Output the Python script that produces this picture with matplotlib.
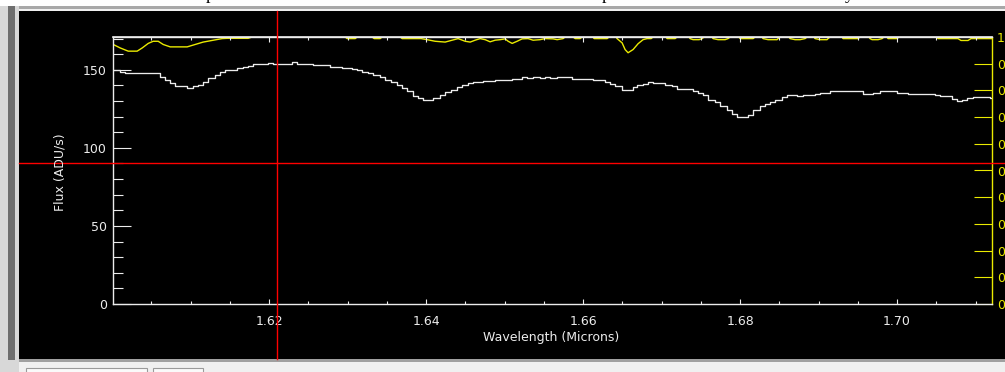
import matplotlib
matplotlib.use('Agg')
import matplotlib.pyplot as plt
from matplotlib.patches import Rectangle
from matplotlib.lines import Line2D
from matplotlib.ticker import MultipleLocator, FormatStrFormatter

# observed spectrum (step starts, microns) and flux (ADU/s)
flux_wl = [1.60013, 1.60102, 1.60166, 1.60611, 1.60675, 1.60739, 1.60803, 1.60955,
           1.61032, 1.61096, 1.61159, 1.61223, 1.61312, 1.61376, 1.61439, 1.61592,
           1.61669, 1.61732, 1.61796, 1.61987, 1.62051, 1.62293, 1.62357, 1.62561,
           1.62777, 1.62930, 1.63057, 1.63121, 1.63185, 1.63261, 1.63325, 1.63414,
           1.63478, 1.63554, 1.63631, 1.63694, 1.63758, 1.63834, 1.63898, 1.63962,
           1.64089, 1.64178, 1.64242, 1.64318, 1.64395, 1.64459, 1.64535, 1.64599,
           1.64726, 1.64879, 1.65096, 1.65223, 1.65287, 1.65363, 1.65452, 1.65516,
           1.65580, 1.65669, 1.65860, 1.66127, 1.66280, 1.66344, 1.66408, 1.66497,
           1.66637, 1.66688, 1.66764, 1.66828, 1.66892, 1.67045, 1.67134, 1.67197,
           1.67401, 1.67465, 1.67529, 1.67592, 1.67682, 1.67745, 1.67834, 1.67898,
           1.67962, 1.68102, 1.68166, 1.68255, 1.68318, 1.68382, 1.68446, 1.68535,
           1.68599, 1.68726, 1.68803, 1.68955, 1.69019, 1.69146, 1.69567, 1.69694,
           1.69783, 1.70000, 1.70140, 1.70484, 1.70548, 1.70701, 1.70764, 1.70828,
           1.70892, 1.70968, 1.71185, 1.71210]
flux = [149.6, 148.9, 147.9, 145.4, 143.6, 141.5, 139.4, 138.3,
        139.4, 140.4, 142.5, 144.7, 146.8, 148.5, 149.6, 151.1,
        152.1, 152.7, 153.8, 154.6, 153.8, 154.9, 154.0, 153.2,
        152.1, 151.3, 150.4, 149.6, 148.7, 147.9, 146.8, 145.4,
        143.6, 142.5, 140.4, 138.3, 136.2, 133.4, 132.0, 130.9,
        132.0, 133.6, 135.8, 137.3, 139.0, 140.3, 141.5, 142.2,
        143.0, 143.6, 144.3, 145.1, 144.5, 145.1, 144.5, 145.1,
        144.5, 145.1, 144.3, 143.6, 142.2, 140.9, 139.4, 136.8,
        139.0, 140.3, 141.1, 141.9, 141.5, 140.4, 139.4, 137.7,
        136.2, 135.2, 133.6, 130.9, 129.4, 127.1, 124.5, 122.0,
        119.9, 121.3, 124.1, 126.6, 128.3, 129.2, 130.9, 132.4,
        134.1, 133.4, 134.1, 134.5, 135.2, 136.2, 134.5, 135.2,
        136.2, 135.2, 134.5, 134.1, 133.0, 131.5, 130.3, 130.9,
        132.0, 132.6, 132.0, 132.0]

# atmospheric transmission (right axis)
trans_wl = [1.60013, 1.60102, 1.60204, 1.60318, 1.60382, 1.60459, 1.60522, 1.60586,
            1.60650, 1.60739, 1.60955, 1.61057, 1.61159, 1.61287, 1.61401, 1.61465,
            1.61732, 1.61783, 1.62968, 1.62994, 1.63096, 1.63121, 1.63312, 1.63338,
            1.63414, 1.63439, 1.63669, 1.63694, 1.63936, 1.64013, 1.64115, 1.64242,
            1.64331, 1.64408, 1.64497, 1.64561, 1.64624, 1.64688, 1.64752, 1.64815,
            1.64879, 1.64943, 1.65006, 1.65045, 1.65096, 1.65159, 1.65223, 1.65299,
            1.65363, 1.65452, 1.65516, 1.65618, 1.65669, 1.65745, 1.65770, 1.65873,
            1.65899, 1.65962, 1.65987, 1.66127, 1.66140, 1.66306, 1.66331, 1.66420,
            1.66433, 1.66497, 1.66535, 1.66573, 1.66637, 1.66701, 1.66764, 1.66815,
            1.66866, 1.66892, 1.67057, 1.67070, 1.67172, 1.67197, 1.67350, 1.67363,
            1.67401, 1.67478, 1.67516, 1.67541, 1.67643, 1.67656, 1.67720, 1.67809,
            1.67847, 1.67873, 1.67987, 1.68000, 1.68166, 1.68191, 1.68280, 1.68293,
            1.68357, 1.68471, 1.68484, 1.68510, 1.68624, 1.68637, 1.68701, 1.68764,
            1.68828, 1.68854, 1.68943, 1.68955, 1.69019, 1.69108, 1.69121, 1.69146,
            1.69299, 1.69312, 1.69503, 1.69529, 1.69643, 1.69656, 1.69682, 1.69758,
            1.69809, 1.69834, 1.69873, 1.69885, 1.70000, 1.70025, 1.70510, 1.70522,
            1.70777, 1.70815, 1.70904, 1.70943, 1.71210]
trans = [0.972, 0.959, 0.947, 0.947, 0.959, 0.976, 0.984, 0.984,
         0.972, 0.963, 0.963, 0.972, 0.981, 0.988, 0.994, 0.995,
         0.995, 1.0, 1.0, 0.994, 0.994, 1.0, 1.0, 0.994,
         0.994, 1.0, 1.0, 0.994, 0.994, 0.990, 0.984, 0.981,
         0.988, 0.994, 0.984, 0.981, 0.988, 0.994, 0.990, 0.982,
         0.988, 0.990, 0.993, 0.984, 0.976, 0.984, 0.993, 0.994,
         0.988, 0.990, 0.994, 0.993, 0.990, 0.994, 1.0, 1.0,
         0.994, 0.994, 1.0, 1.0, 0.994, 0.994, 1.0, 1.0,
         0.994, 0.978, 0.953, 0.941, 0.953, 0.975, 0.990, 0.994,
         0.994, 1.0, 1.0, 0.994, 0.994, 1.0, 1.0, 0.994,
         0.990, 0.990, 0.994, 1.0, 1.0, 0.994, 0.990, 0.990,
         0.994, 1.0, 1.0, 0.994, 0.994, 1.0, 1.0, 0.994,
         0.990, 0.990, 0.994, 1.0, 1.0, 0.994, 0.990, 0.990,
         0.994, 1.0, 1.0, 0.994, 0.990, 0.990, 0.994, 1.0,
         1.0, 0.994, 0.994, 1.0, 1.0, 0.994, 0.990, 0.990,
         0.994, 1.0, 1.0, 0.994, 0.994, 1.0, 1.0, 0.994,
         0.994, 0.987, 0.987, 0.994, 0.994]

cursor_wl = 1.621
cursor_flux = 90.0

white = '#ececec'
yellow = '#eaea00'

fig = plt.figure(figsize=(10.05, 3.72), dpi=100, facecolor='#f0f0f0')

def px_rect(x0, y0, x1, y1, **kw):
    # rectangle given in screen pixels (top-left origin)
    W, H = 1005.0, 372.0
    r = Rectangle((x0 / W, 1 - y1 / H), (x1 - x0) / W, (y1 - y0) / H,
                  transform=fig.transFigure, zorder=-1, **kw)
    fig.patches.append(r)

# window chrome around the draw widget
px_rect(0, 0, 1005, 6, facecolor='white', edgecolor='none')
px_rect(8, 6, 1005, 8.5, facecolor='#a8a8a8', edgecolor='none')
px_rect(0, 6, 19, 372, facecolor='#d8d8d8', edgecolor='none')
px_rect(8, 6, 15, 360, facecolor='#6e6e6e', edgecolor='none')
px_rect(19, 11, 1005, 359, facecolor='black', edgecolor='none')
px_rect(19, 359, 1005, 362, facecolor='#a0a0a0', edgecolor='none')
px_rect(26, 368, 147, 380, facecolor='#fafafa', edgecolor='#9a9a9a', linewidth=0.8)
px_rect(153, 368, 203, 380, facecolor='#fafafa', edgecolor='#9a9a9a', linewidth=0.8)

# cut-off text from the page above
for xp, ch in [(210, 'p'), (606, 'p'), (849, 'y')]:
    fig.text(xp / 1005, 1.0 + 0.5 / 372, ch, family='Liberation Serif', fontsize=13,
             ha='center', va='baseline', color='black')

ax = fig.add_axes([113 / 1005, 1 - 304 / 372, 879 / 1005, 267 / 372])
ax.patch.set_visible(False)
ax.step(flux_wl, flux, where='post', color=white, lw=0.95)
ax.set_xlim(1.6001, 1.7121)
ax.set_ylim(0, 171)

ax.xaxis.set_major_locator(MultipleLocator(0.02))
ax.xaxis.set_minor_locator(MultipleLocator(0.005))
ax.xaxis.set_major_formatter(FormatStrFormatter('%.2f'))
ax.yaxis.set_major_locator(MultipleLocator(50))
ax.yaxis.set_minor_locator(MultipleLocator(10))

ax.tick_params(axis='x', which='major', direction='in', length=3.8, width=0.8,
               top=True, bottom=True, pad=8, labelsize=9, colors=white)
ax.tick_params(axis='x', which='minor', direction='in', length=2.2, width=0.8,
               top=True, bottom=True, colors=white)
ax.tick_params(axis='y', which='major', direction='in', length=13, width=0.8,
               left=True, right=False, pad=4.5, labelsize=9, colors=white)
ax.tick_params(axis='y', which='minor', direction='in', length=7.5, width=0.8,
               left=True, right=False, colors=white)
for side in ['left', 'bottom', 'top']:
    ax.spines[side].set_color(white)
    ax.spines[side].set_linewidth(1.0)
ax.spines['right'].set_visible(False)

ax2 = ax.twinx()
ax2.plot(trans_wl, trans, color=yellow, lw=1.0)
ax2.set_ylim(0, 1)
ax2.yaxis.set_major_locator(MultipleLocator(0.1))
ax2.yaxis.set_major_formatter(FormatStrFormatter('%.1f'))
ax2.tick_params(axis='y', which='major', direction='in', length=13, width=0.8,
                pad=3.5, labelsize=9, colors=yellow)
ax2.spines['right'].set_color(yellow)
ax2.spines['right'].set_linewidth(1.0)
ax2.spines['top'].set_color(white)
ax2.spines['top'].set_linewidth(1.2)
ax2.spines['left'].set_visible(False)
ax2.spines['bottom'].set_visible(False)

fig.text(551 / 1005, 1 - 338 / 372, 'Wavelength (Microns)', color=white,
         fontsize=9, ha='center', va='center')
fig.text(60 / 1005, 1 - 172 / 372, 'Flux (ADU/s)', color=white, fontsize=9,
         ha='center', va='center', rotation=90)

# red cursor crosshair across the whole draw widget
ax.axvline(cursor_wl, ymin=-0.206, ymax=1.097, color='red', lw=1.0,
           clip_on=False, zorder=10)
ax.axhline(cursor_flux, xmin=-0.107, xmax=1.02, color='red', lw=1.0,
           clip_on=False, zorder=10)
ax.set_zorder(ax2.get_zorder() + 1)

fig.savefig('out.png', dpi=100, facecolor=fig.get_facecolor())
